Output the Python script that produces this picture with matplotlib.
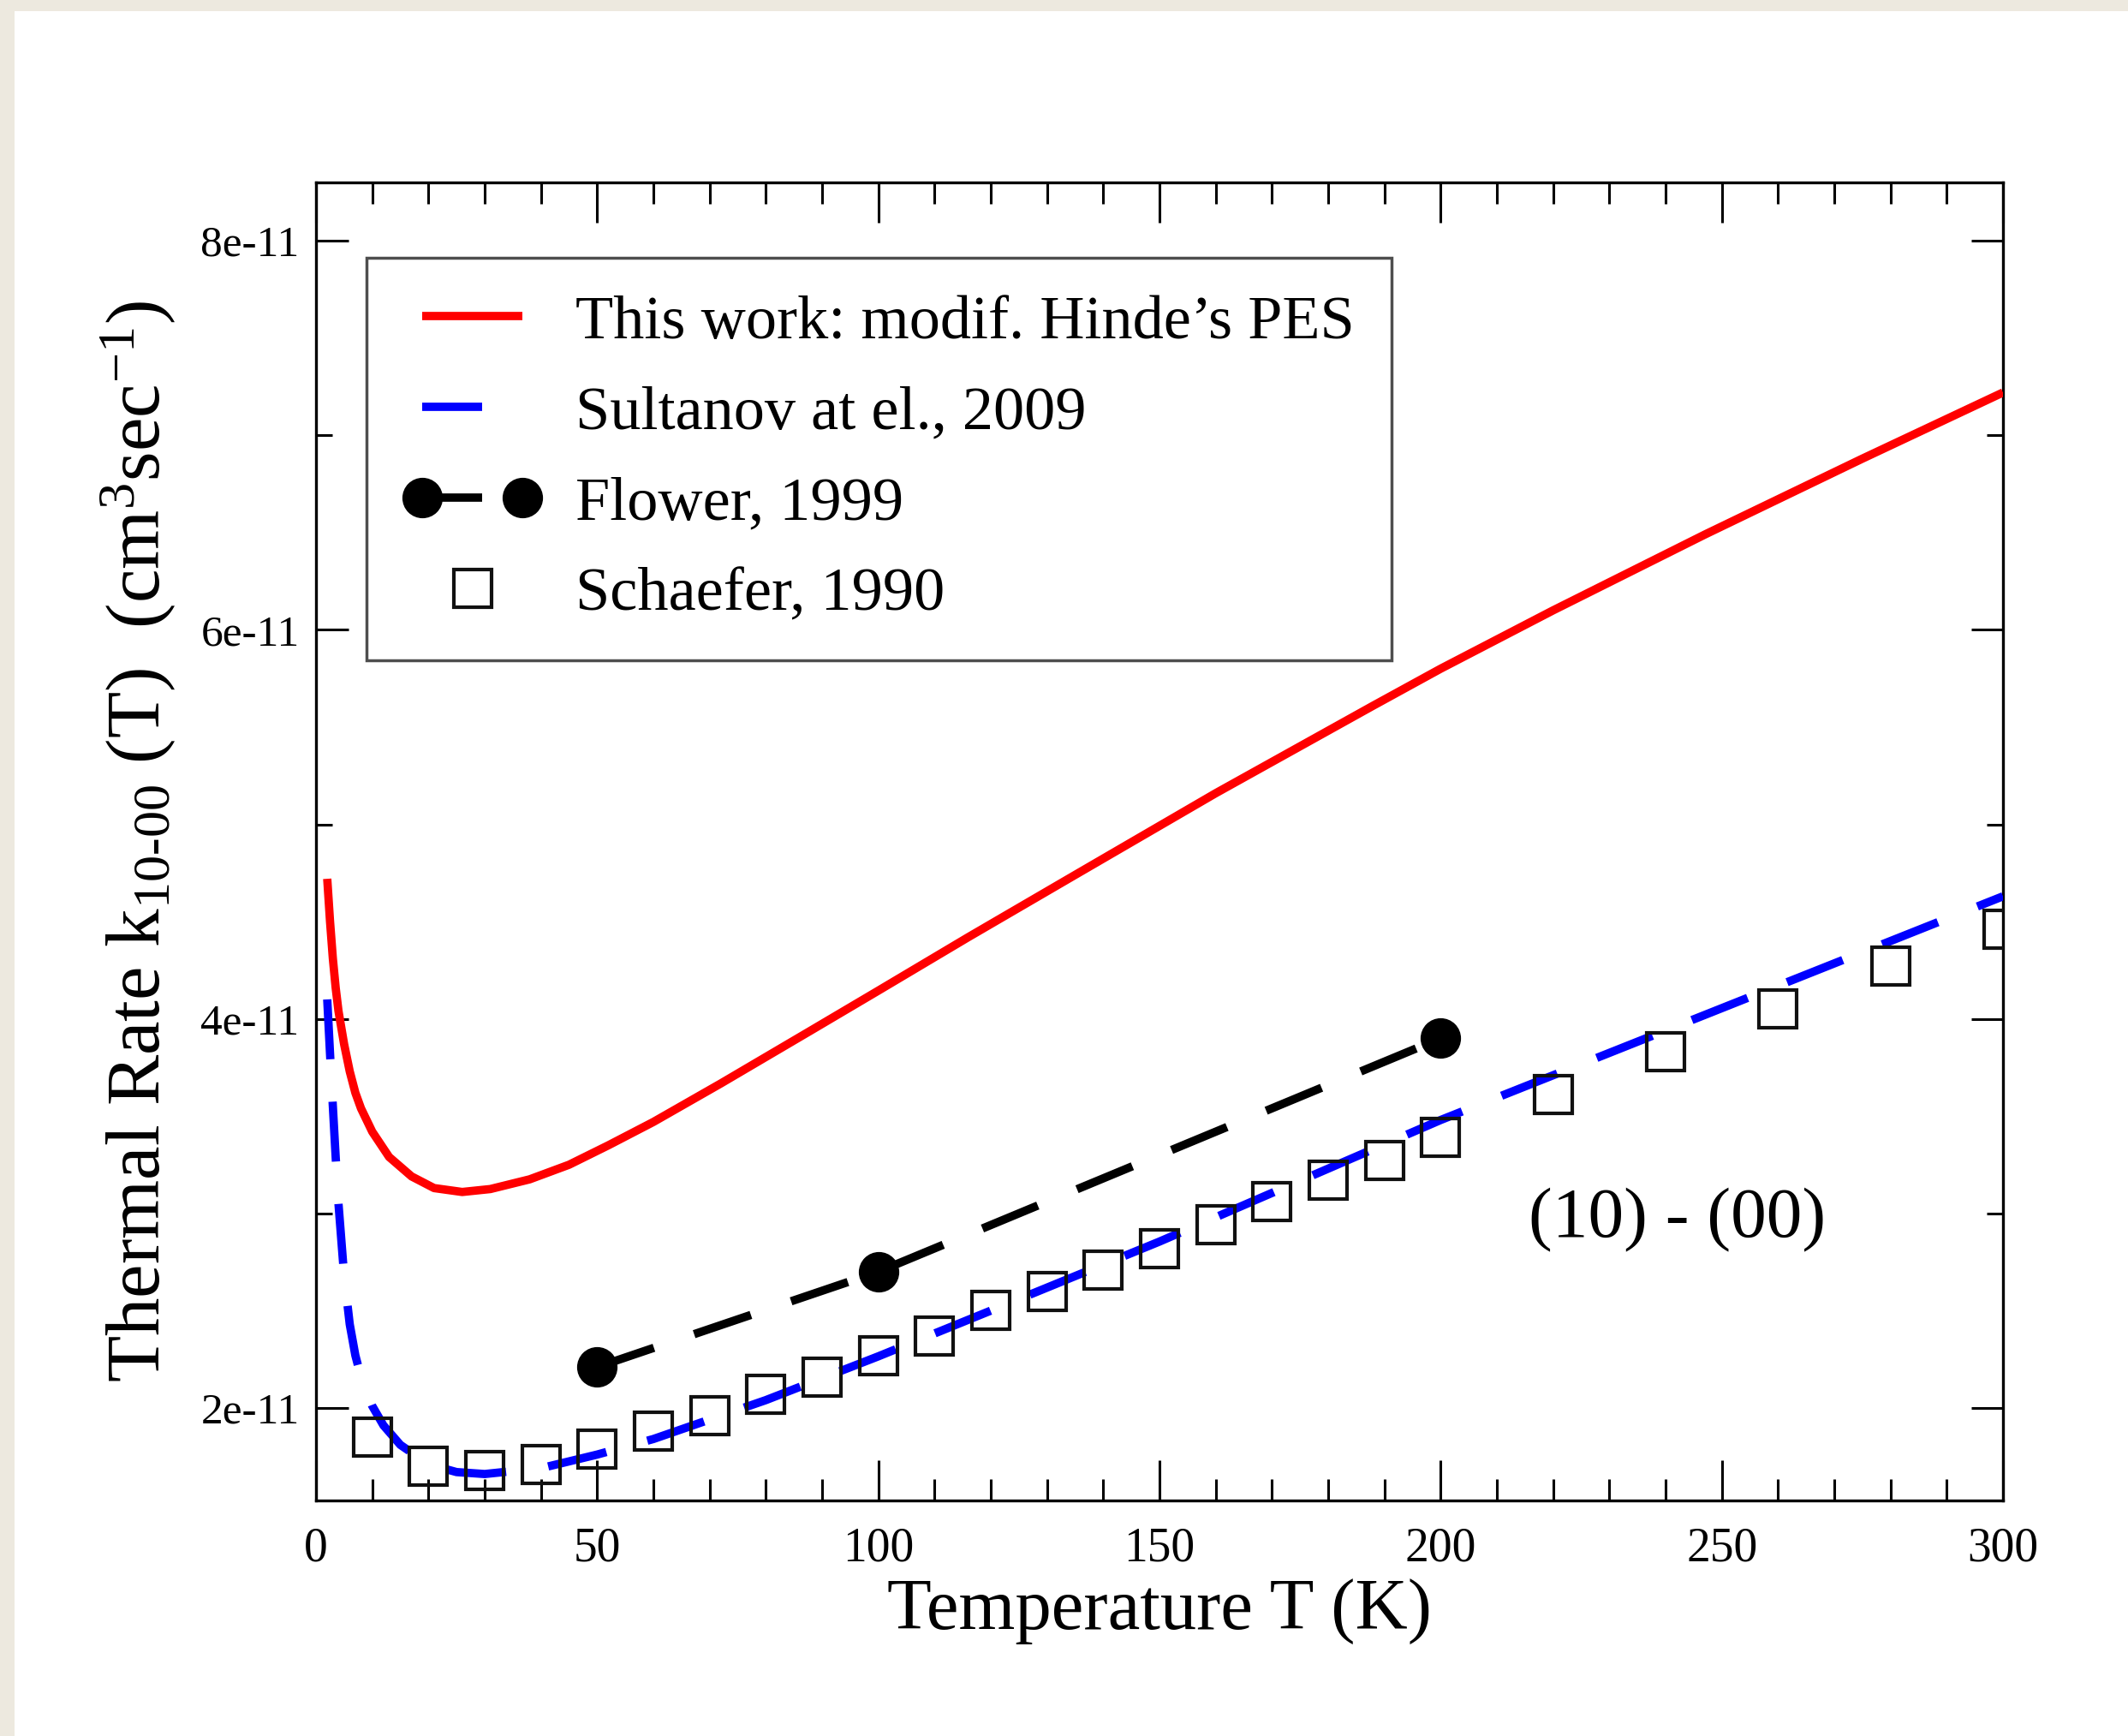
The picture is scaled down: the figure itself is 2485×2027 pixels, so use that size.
import matplotlib
matplotlib.use("Agg")
import matplotlib.pyplot as plt
from matplotlib.patches import Rectangle
from matplotlib.ticker import MultipleLocator, FixedLocator
from matplotlib.legend_handler import HandlerLine2D

# ---------------- data ----------------
T_this = [2, 2.5, 3, 3.5, 4, 5, 6, 7, 8, 10, 13, 17, 21, 26, 31, 38, 45, 52,
          60, 72, 88, 100, 116, 135, 160, 188, 200, 220, 247, 275, 300]
k_this = [4.72, 4.50, 4.31, 4.16, 4.04, 3.87, 3.73, 3.62, 3.54, 3.42, 3.29,
          3.19, 3.13, 3.11, 3.125, 3.175, 3.25, 3.35, 3.47, 3.668, 3.94, 4.145,
          4.42, 4.74, 5.16, 5.61, 5.80, 6.10, 6.49, 6.88, 7.22]

T_sultanov = [2, 2.5, 3, 3.5, 4, 5, 6, 7, 8, 10, 12, 15, 20, 25, 30, 40, 50,
              60, 80, 100, 120, 150, 170, 200, 220, 240, 260, 280, 300]
k_sultanov = [4.10, 3.82, 3.55, 3.29, 3.05, 2.68, 2.43, 2.27, 2.16, 2.01, 1.91,
              1.81, 1.71, 1.67, 1.66, 1.69, 1.76, 1.84, 2.04, 2.265, 2.50, 2.855,
              3.105, 3.48, 3.71, 3.94, 4.17, 4.40, 4.63]

T_flower = [50, 100, 200]
k_flower = [2.21, 2.70, 3.90]

T_schaefer = [10, 20, 30, 40, 50, 60, 70, 80, 90, 100, 110, 120, 130, 140, 150,
              160, 170, 180, 190, 200, 220, 240, 260, 280, 300]
k_schaefer = [1.85, 1.70, 1.68, 1.71, 1.79, 1.88, 1.96, 2.07, 2.16, 2.27, 2.37,
              2.50, 2.60, 2.71, 2.82, 2.94, 3.06, 3.17, 3.27, 3.39, 3.61, 3.83,
              4.05, 4.27, 4.46]
SCALE = 1e-11

labels = ["This work: modif. Hinde\u2019s PES", "Sultanov at el., 2009",
          "Flower, 1999", "Schaefer, 1990"]
xticks = [0, 50, 100, 150, 200, 250, 300]
yticks = [2e-11, 4e-11, 6e-11, 8e-11]
yticklabels = ["2e-11", "4e-11", "6e-11", "8e-11"]

# ---------------- style ----------------
plt.rcParams["font.family"] = ["Liberation Serif", "DejaVu Serif"]
plt.rcParams["mathtext.fontset"] = "custom"
plt.rcParams["mathtext.rm"] = "Liberation Serif"
plt.rcParams["mathtext.it"] = "Liberation Serif:italic"

DPI = 100
fig = plt.figure(figsize=(24.85, 20.27), dpi=DPI, facecolor="#EDE9DF")
# white page area (beige strips left and top)
fig.patches.append(Rectangle((17 / 2485, 0), 1 - 17 / 2485, 1 - 13 / 2027,
                             transform=fig.transFigure, facecolor="white",
                             edgecolor="none", zorder=-5))

ax = fig.add_axes([369 / 2485, 1 - 1752 / 2027, (2339 - 369) / 2485,
                   (1752 - 213) / 2027])
ax.set_facecolor("white")

LW = 7
dash = (7.2, 5.1)

ax.plot(T_this, [v * SCALE for v in k_this], color="#ff0000", lw=LW,
        solid_capstyle="butt", solid_joinstyle="round", label=labels[0], zorder=3)
ax.plot(T_sultanov, [v * SCALE for v in k_sultanov], color="#0000ff", lw=LW,
        dashes=dash, label=labels[1], zorder=3)
ax.plot(T_flower, [v * SCALE for v in k_flower], color="black", lw=LW,
        dashes=dash, marker="o", markersize=33, label=labels[2], zorder=4)
sq, = ax.plot(T_schaefer, [v * SCALE for v in k_schaefer], linestyle="none",
              marker="s", markersize=32, markerfacecolor="none",
              markeredgecolor="#111111", markeredgewidth=3.0, label=labels[3],
              zorder=5)

ax.set_xlim(0, 300)
ax.set_ylim(1.524e-11, 8.30e-11)

ax.xaxis.set_major_locator(FixedLocator(xticks))
ax.xaxis.set_minor_locator(MultipleLocator(10))
ax.yaxis.set_major_locator(FixedLocator(yticks))
ax.yaxis.set_minor_locator(MultipleLocator(1e-11))
ax.set_xticklabels([str(t) for t in xticks])
ax.set_yticklabels(yticklabels)

ax.tick_params(axis="both", which="both", direction="in", top=True, right=True,
               width=2.2, color="black")
ax.tick_params(axis="x", which="major", length=34, pad=22, labelsize=40)
ax.tick_params(axis="x", which="minor", length=18)
ax.tick_params(axis="y", which="major", length=27, pad=14, labelsize=37)
ax.tick_params(axis="y", which="minor", length=14)
for s in ax.spines.values():
    s.set_linewidth(2.4)

ax.set_xlabel("Temperature T (K)", fontsize=61, labelpad=6)
ax.set_ylabel(r"Thermal Rate k$_\mathregular{10\text{-}00}$ (T)  "
              r"(cm$^\mathregular{3}$sec$^\mathregular{-1}$)",
              fontsize=64, labelpad=20)

ax.text(242, 2.965e-11, "(10) - (00)", fontsize=60, ha="center", va="center")

leg = ax.legend(loc="upper left", bbox_to_anchor=(0.030, 0.943),
                borderaxespad=0, fontsize=52, frameon=True, fancybox=False,
                handlelength=2.22, handletextpad=0.56, labelspacing=0.56,
                borderpad=0.6, numpoints=2,
                handler_map={sq: HandlerLine2D(numpoints=1)})
leg.get_frame().set_edgecolor("#222222")
leg.get_frame().set_linewidth(2.5)

fig.savefig("out.png", dpi=DPI, facecolor=fig.get_facecolor())
